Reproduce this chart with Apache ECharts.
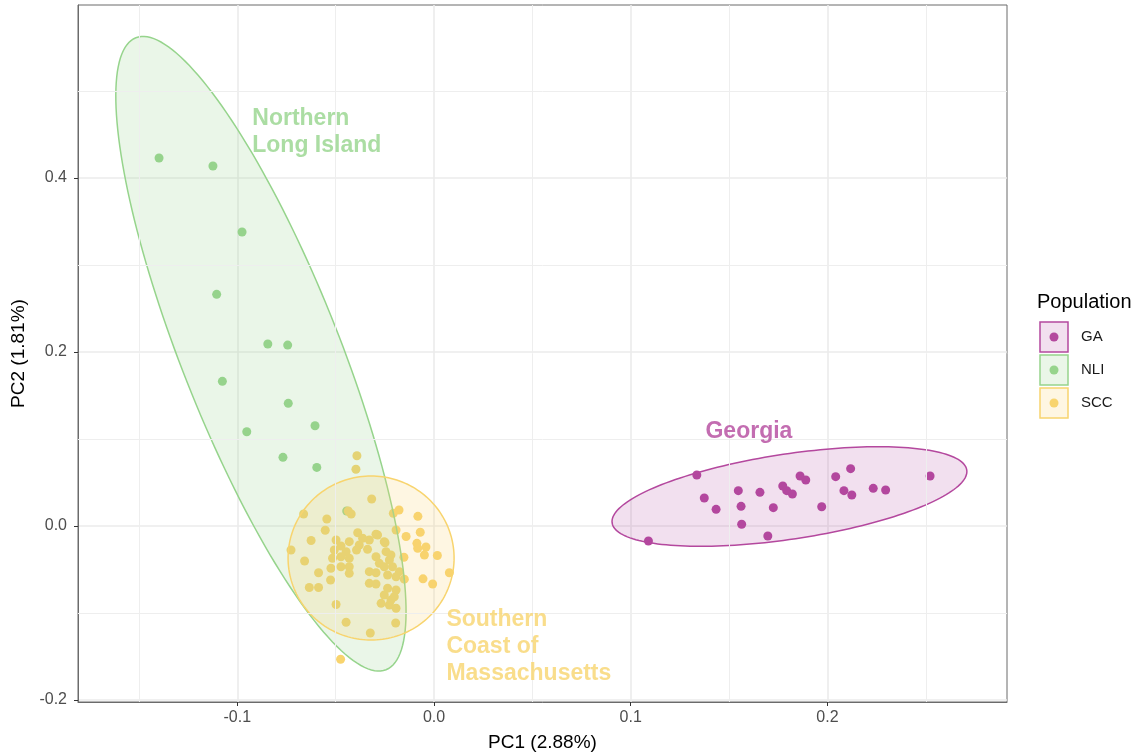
<!DOCTYPE html>
<html><head><meta charset="utf-8">
<script src="https://cdn.jsdelivr.net/npm/echarts@6/dist/echarts.min.js"></script>
<style>html,body{margin:0;padding:0;background:#fff}#c{width:1138px;height:752px}</style>
</head><body><div id="c"></div>
<script>
// ---------- data ----------
const populations = ['GA', 'NLI', 'SCC'];
const popColors = ['#B4489E', '#96D48C', '#F8D46E'];
const popFills = ['rgba(180,72,158,0.17)', 'rgba(150,212,140,0.2)', 'rgba(248,212,110,0.2)'];

const gaPoints = [
  [0.1090,-0.0172],[0.1336,0.0586],[0.1374,0.0322],[0.1434,0.0192],[0.1547,0.0406],
  [0.1561,0.0226],[0.1564,0.0020],[0.1657,0.0387],[0.1697,-0.0115],[0.1725,0.0211],
  [0.1773,0.0460],[0.1793,0.0406],[0.1822,0.0368],[0.1861,0.0575],[0.1890,0.0529],
  [0.1971,0.0222],[0.2042,0.0567],[0.2084,0.0406],[0.2118,0.0659],[0.2124,0.0356],
  [0.2233,0.0433],[0.2296,0.0414],[0.2522,0.0575]
];
const nliPoints = [
  [-0.1398,0.4230],[-0.1124,0.4138],[-0.0976,0.3379],[-0.1105,0.2663],[-0.0845,0.2092],
  [-0.0744,0.2080],[-0.1076,0.1663],[-0.0741,0.1410],[-0.0605,0.1153],[-0.0952,0.1084],
  [-0.0768,0.0789],[-0.0596,0.0674],[-0.0444,0.0172]
];
const sccPoints = [
  [-0.0392,0.0808],[-0.0397,0.0652],[-0.0317,0.0310],[-0.0436,0.0172],[-0.0421,0.0138],
  [-0.0663,0.0138],[-0.0545,0.0080],[-0.0553,-0.0049],[-0.0625,-0.0167],[-0.0727,-0.0276],
  [-0.0658,-0.0402],[-0.0587,-0.0537],[-0.0524,-0.0486],[-0.0526,-0.0621],[-0.0634,-0.0707],
  [-0.0587,-0.0707],[-0.0498,-0.0902],[-0.0447,-0.1106],[-0.0324,-0.1230],[-0.0195,-0.1115],
  [-0.0475,-0.1531],[-0.0178,0.0184],[-0.0207,0.0146],[-0.0082,0.0111],[-0.0070,-0.0072],
  [-0.0142,-0.0120],[-0.0087,-0.0199],[-0.0041,-0.0241],[-0.0049,-0.0333],[0.0017,-0.0339],
  [-0.0153,-0.0359],[0.0078,-0.0537],[-0.0056,-0.0607],[-0.0007,-0.0667],[-0.0151,-0.0611],
  [-0.0193,-0.0046],[-0.0498,-0.0161],[-0.0473,-0.0230],[-0.0431,-0.0180],[-0.0388,-0.0077],
  [-0.0363,-0.0141],[-0.0329,-0.0161],[-0.0287,-0.0103],[-0.0253,-0.0180],[-0.0394,-0.0276],
  [-0.0338,-0.0268],[-0.0447,-0.0295],[-0.0507,-0.0276],[-0.0516,-0.0371],[-0.0473,-0.0353],
  [-0.0431,-0.0371],[-0.0295,-0.0353],[-0.0244,-0.0295],[-0.0219,-0.0333],[-0.0278,-0.0429],
  [-0.0253,-0.0468],[-0.0211,-0.0468],[-0.0329,-0.0525],[-0.0295,-0.0537],[-0.0236,-0.0563],
  [-0.0193,-0.0583],[-0.0473,-0.0468],[-0.0431,-0.0544],[-0.0329,-0.0659],[-0.0295,-0.0667],
  [-0.0236,-0.0716],[-0.0193,-0.0736],[-0.0253,-0.0793],[-0.0202,-0.0813],[-0.0269,-0.0889],
  [-0.0227,-0.0908],[-0.0193,-0.0946],[-0.0219,-0.0851],[-0.0227,-0.0391],[-0.0176,-0.0525],
  [-0.0431,-0.0468],[-0.0380,-0.0218],[-0.0295,-0.0095],[-0.0249,-0.0192],[-0.0083,-0.0256]
];
// ellipses: [centerX, centerY, semiAxisU_x, semiAxisU_y, semiAxisV_x, semiAxisV_y] (data units)
const gaEllipse  = [0.1807, 0.0339, 0.0902, 0.0287, 0.0, 0.0495];
const nliEllipse = [-0.0880, 0.1980, -0.0636, 0.3632, 0.0374, 0.0334];
const sccEllipse = [-0.0320, -0.0368, 0.0422, 0.0, 0.0, 0.0943];

const xTicks = [-0.1, 0.0, 0.1, 0.2];
const yTicks = [-0.2, 0.0, 0.2, 0.4];
const xMinor = [-0.15, -0.05, 0.05, 0.15, 0.25];
const yMinor = [-0.1, 0.1, 0.3, 0.5];
const xRange = [-0.181, 0.2913];
const yRange = [-0.2023, 0.5989];

const annoTexts = ['Northern\nLong Island', 'Georgia', 'Southern\nCoast of\nMassachusetts'];
const annoX = [-0.0924, 0.1380, 0.0063];
const annoY = [0.4839, 0.1241, -0.0920];
const annoColor = [1, 0, 2];

// ---------- chart ----------
const chart = echarts.init(document.getElementById('c'), null, {renderer: 'canvas'});
const FONT = '"Liberation Sans", Arial, Helvetica, sans-serif';
const allPoints = [gaPoints, nliPoints, sccPoints];
const allEllipses = [gaEllipse, nliEllipse, sccEllipse];

function ellipseRenderer(idx) {
  return function (params, api) {
    const cx = api.value(0), cy = api.value(1), ux = api.value(2), uy = api.value(3), vx = api.value(4), vy = api.value(5);
    const pts = [];
    const N = 180;
    for (let i = 0; i < N; i++) {
      const t = 2 * Math.PI * i / N;
      pts.push(api.coord([cx + ux * Math.cos(t) + vx * Math.sin(t), cy + uy * Math.cos(t) + vy * Math.sin(t)]));
    }
    return {type: 'polygon', shape: {points: pts},
      style: {fill: popFills[idx], stroke: popColors[idx], lineWidth: 1.5}};
  };
}

const series = [];
series.push({
  type: 'scatter', name: 'minorGrid', data: [], z: 1, silent: true,
  markLine: {silent: true, symbol: 'none', animation: false, label: {show: false},
    lineStyle: {color: '#EEEEEE', width: 1, type: 'solid'},
    data: xMinor.map(v => ({xAxis: v})).concat(yMinor.map(v => ({yAxis: v})))}
});
populations.forEach((p, i) => {
  series.push({
    type: 'scatter', name: p, data: allPoints[i], symbolSize: 9, z: 3,
    itemStyle: {color: popColors[i], opacity: 1}, animation: false
  });
});
populations.forEach((p, i) => {
  series.push({
    type: 'custom', name: p + ' ellipse', data: [allEllipses[i]], z: 4,
    encode: {x: 0, y: 1}, renderItem: ellipseRenderer(i), animation: false, silent: true
  });
});
series.push({
  type: 'scatter', name: 'labels', symbolSize: 0, z: 6, silent: true, animation: false,
  data: annoTexts.map((t, i) => ({
    value: [annoX[i], annoY[i]],
    label: {show: true, formatter: t, position: [0, 0], align: 'left', verticalAlign: 'top',
      color: popColors[annoColor[i]], fontFamily: FONT, fontWeight: 'bold', fontSize: 23,
      lineHeight: 27}
  }))
});

const legendGraphics = [{
  type: 'text', left: 1037, top: 292,
  style: {text: 'Population', fill: '#000', font: '20px ' + FONT}
}];
populations.forEach((p, i) => {
  const cy = 337 + i * 33;
  legendGraphics.push({type: 'rect', shape: {x: 1040, y: cy - 15, width: 28, height: 30},
    style: {fill: popFills[i], stroke: popColors[i], lineWidth: 1.5}});
  legendGraphics.push({type: 'circle', shape: {cx: 1054, cy: cy, r: 4.5},
    style: {fill: popColors[i]}});
  legendGraphics.push({type: 'text', x: 1081, y: cy,
    style: {text: p, fill: '#1a1a1a', font: '15px ' + FONT, textVerticalAlign: 'middle'}});
});

chart.setOption({
  animation: false,
  backgroundColor: '#ffffff',
  grid: {left: 78, right: 131, top: 5, bottom: 50, show: true, borderColor: '#6b6b6b', borderWidth: 1,
    backgroundColor: 'transparent', containLabel: false, outerBoundsMode: 'none'},
  xAxis: {
    type: 'value', min: xRange[0], max: xRange[1],
    name: 'PC1 (2.88%)', nameLocation: 'middle', nameGap: 31,
    nameTextStyle: {color: '#000', fontSize: 19, fontFamily: FONT},
    axisLine: {show: true, onZero: false, lineStyle: {color: '#6b6b6b', width: 1}},
    axisTick: {show: true, customValues: xTicks, length: 4, lineStyle: {color: '#333', width: 1}},
    axisLabel: {customValues: xTicks, formatter: v => v.toFixed(1), color: '#4d4d4d', fontSize: 16,
      fontFamily: FONT, margin: 8},
    splitLine: {show: true, lineStyle: {color: '#EBEBEB', width: 1.6}}
  },
  yAxis: {
    type: 'value', min: yRange[0], max: yRange[1],
    name: 'PC2 (1.81%)', nameLocation: 'middle', nameGap: 50,
    nameTextStyle: {color: '#000', fontSize: 19, fontFamily: FONT},
    axisLine: {show: true, onZero: false, lineStyle: {color: '#6b6b6b', width: 1}},
    axisTick: {show: true, customValues: yTicks, length: 4, lineStyle: {color: '#333', width: 1}},
    axisLabel: {customValues: yTicks, formatter: v => v.toFixed(1), color: '#4d4d4d', fontSize: 16,
      fontFamily: FONT, margin: 11},
    splitLine: {show: true, lineStyle: {color: '#EBEBEB', width: 1.6}}
  },
  graphic: legendGraphics,
  series: series
});
</script></body></html>
